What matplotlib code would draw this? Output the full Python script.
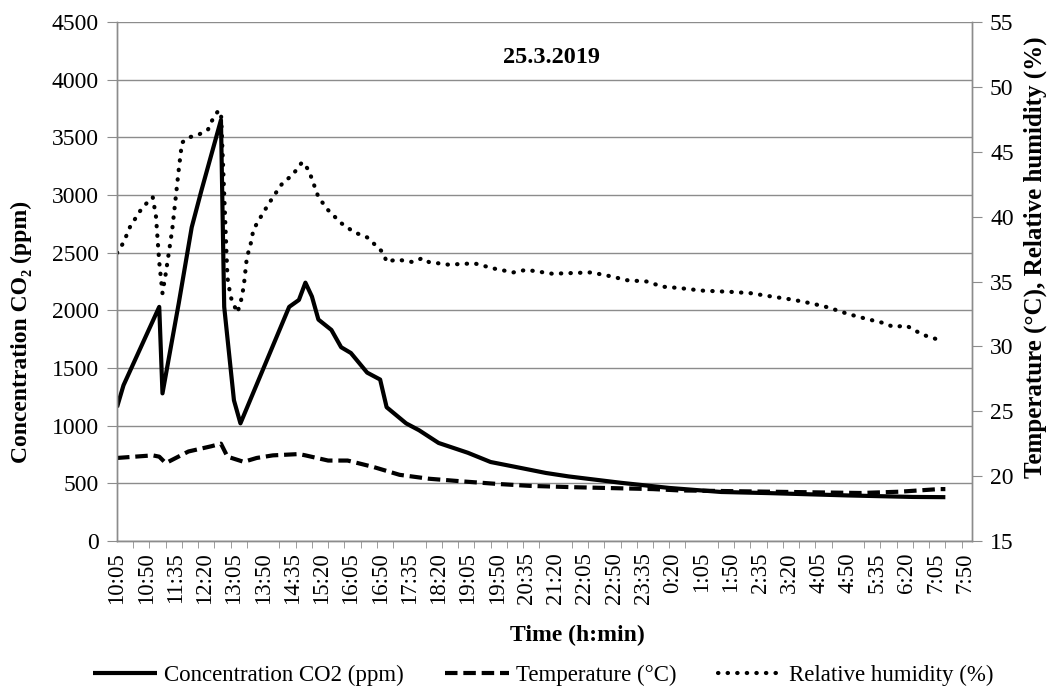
import matplotlib
matplotlib.use("Agg")
import matplotlib.pyplot as plt
from matplotlib.ticker import FixedLocator, NullFormatter

plt.rcParams['font.family'] = ['Liberation Serif', 'DejaVu Serif']

# ---- data (clock time, value) ----
co2_time = ["10:05", "10:15", "11:10", "11:15", "11:40", "12:00", "12:15", "12:45",
            "12:50", "13:05", "13:15", "14:30", "14:45", "14:55", "15:05", "15:15",
            "15:35", "15:50", "16:05", "16:30", "16:50", "17:00", "17:30", "17:50",
            "18:20", "19:05", "19:40", "20:25", "21:05", "21:40", "23:00", "0:15",
            "1:35", "2:50", "4:50", "6:30", "7:20"]
co2_ppm = [1160, 1350, 2030, 1280, 2060, 2720, 3040, 3650,
           2030, 1220, 1020, 2030, 2090, 2240, 2120, 1920,
           1830, 1680, 1630, 1460, 1400, 1160, 1020, 960,
           850, 765, 685, 635, 590, 560, 505, 460,
           425, 415, 395, 382, 380]

temp_time = ["10:05", "11:00", "11:10", "11:20", "11:55", "12:30", "12:45", "12:55",
             "13:20", "13:40", "14:05", "14:45", "14:55", "15:30", "16:00", "16:40",
             "17:00", "17:20", "18:05", "18:55", "19:50", "20:40", "21:45", "23:50",
             "0:30", "2:50", "5:10", "6:10", "7:10", "7:20"]
temp_c = [21.4, 21.6, 21.5, 21.0, 21.9, 22.3, 22.5, 21.5,
          21.1, 21.4, 21.6, 21.7, 21.6, 21.2, 21.2, 20.7,
          20.4, 20.1, 19.8, 19.6, 19.4, 19.25, 19.15, 19.0,
          18.9, 18.8, 18.7, 18.8, 19.0, 19.0]

rh_time = ["10:05", "10:15", "10:25", "10:40", "10:50", "11:00", "11:05", "11:10",
           "11:15", "11:20", "11:30", "11:35", "11:40", "11:45", "11:55", "12:10",
           "12:25", "12:30", "12:40", "12:45", "12:55", "13:00", "13:10", "13:15",
           "13:20", "13:25", "13:30", "13:35", "13:50", "14:05", "14:20", "14:35",
           "14:50", "15:00", "15:15", "15:30", "15:50", "16:10", "16:30", "16:45",
           "16:55", "17:00", "17:15", "17:40", "17:55", "18:05", "18:35", "19:15",
           "19:45", "20:15", "20:35", "21:15", "22:15", "22:45", "23:10", "23:40",
           "0:05", "0:30", "1:05", "1:50", "2:20", "2:45", "3:25", "3:55",
           "4:20", "4:50", "5:20", "5:45", "6:00", "6:20", "6:45", "7:10"]
rh_pct = [37.2, 38.0, 39.2, 40.4, 41.0, 41.5, 40.0, 36.5,
          34.1, 35.6, 39.0, 41.3, 43.6, 45.7, 46.1, 46.3,
          46.7, 47.3, 48.1, 48.1, 35.3, 33.8, 32.6, 33.3,
          34.6, 36.9, 37.7, 39.0, 40.3, 41.5, 42.6, 43.2,
          44.2, 43.6, 41.5, 40.5, 39.5, 38.8, 38.4, 37.7,
          37.2, 36.5, 36.7, 36.5, 36.8, 36.5, 36.3, 36.4,
          36.0, 35.7, 35.9, 35.6, 35.7, 35.4, 35.1, 35.0,
          34.6, 34.5, 34.3, 34.2, 34.1, 33.9, 33.6, 33.3,
          33.0, 32.5, 32.1, 31.8, 31.5, 31.6, 30.9, 30.5]

tick_labels = ["10:05", "10:50", "11:35", "12:20", "13:05", "13:50", "14:35", "15:20",
               "16:05", "16:50", "17:35", "18:20", "19:05", "19:50", "20:35", "21:20",
               "22:05", "22:50", "23:35", "0:20", "1:05", "1:50", "2:35", "3:20",
               "4:05", "4:50", "5:35", "6:20", "7:05", "7:50"]

title = "25.3.2019"


def to_min(s):
    h, m = map(int, s.split(":"))
    t = h * 60 + m
    if h < 10:
        t += 24 * 60
    return t - (10 * 60 + 5)


grey = '#8c8c8c'
fig = plt.figure(figsize=(10.51, 6.91), dpi=100)
ax = fig.add_axes([117 / 1051, 1 - 541 / 691, (972 - 117) / 1051, (541 - 22) / 691])
ax2 = ax.twinx()

l1, = ax.plot([to_min(t) for t in co2_time], co2_ppm, color='black', lw=3.0,
              solid_joinstyle='round', solid_capstyle='butt',
              label='Concentration CO2 (ppm)')
l2, = ax2.plot([to_min(t) for t in temp_time], temp_c, color='black', lw=3.0,
               linestyle=(0, (3.0, 1.4)), dash_capstyle='butt',
               label='Temperature (°C)')
l3, = ax2.plot([to_min(t) for t in rh_time], rh_pct, color='black', lw=3.0,
               linestyle=(0, (0.1, 2.2)), dash_capstyle='round',
               label='Relative humidity (%)')

ax.set_xlim(0, 1316)
ax.set_ylim(0, 4500)
ax2.set_ylim(15, 55)
ax.set_yticks(range(0, 4501, 500))
ax2.set_yticks(range(15, 56, 5))

ax.yaxis.grid(True, color=grey, lw=1)
ax.set_axisbelow(True)

for a in (ax, ax2):
    a.spines['top'].set_visible(False)
    for s in ('left', 'right', 'bottom'):
        a.spines[s].set_color(grey)
        a.spines[s].set_linewidth(1)

ax.tick_params(axis='y', direction='out', length=7, color=grey, labelsize=17, pad=6)
ax2.tick_params(axis='y', direction='out', length=7, color=grey, labelsize=17, pad=6)

major_pos = [to_min(t) for t in tick_labels]
ax.xaxis.set_major_locator(FixedLocator(major_pos))
ax.set_xticklabels(tick_labels, rotation=90, va='top', ha='center')
ax.xaxis.set_minor_locator(FixedLocator(list(range(0, 1316, 25))))
ax.xaxis.set_minor_formatter(NullFormatter())
ax.tick_params(axis='x', which='major', length=0, labelsize=16.5, pad=8)
ax.tick_params(axis='x', which='minor', direction='out', length=5, color=grey)

ax.text(0.508, 0.932, title, transform=ax.transAxes, ha='center', va='center',
        fontsize=17.5, fontweight='bold')

fig.text(21 / 1051, 1 - 332 / 691, 'Concentration CO₂ (ppm)', rotation=90,
         ha='center', va='center', fontsize=17, fontweight='bold')
fig.text(1035 / 1051, 1 - 257 / 691, 'Temperature (°C), Relative humidity (%)',
         rotation=90, ha='center', va='center', fontsize=18, fontweight='bold')
fig.text(577 / 1051, 1 - 635 / 691, 'Time (h:min)', ha='center', va='center',
         fontsize=17, fontweight='bold')

fig.legend(handles=[l1, l2, l3], loc='center', bbox_to_anchor=(543 / 1051, 1 - 675 / 691),
           ncol=3, frameon=False, fontsize=16.5, handlelength=2.8, columnspacing=1.8,
           handletextpad=0.3, borderaxespad=0)

fig.savefig('out.png', dpi=100)
